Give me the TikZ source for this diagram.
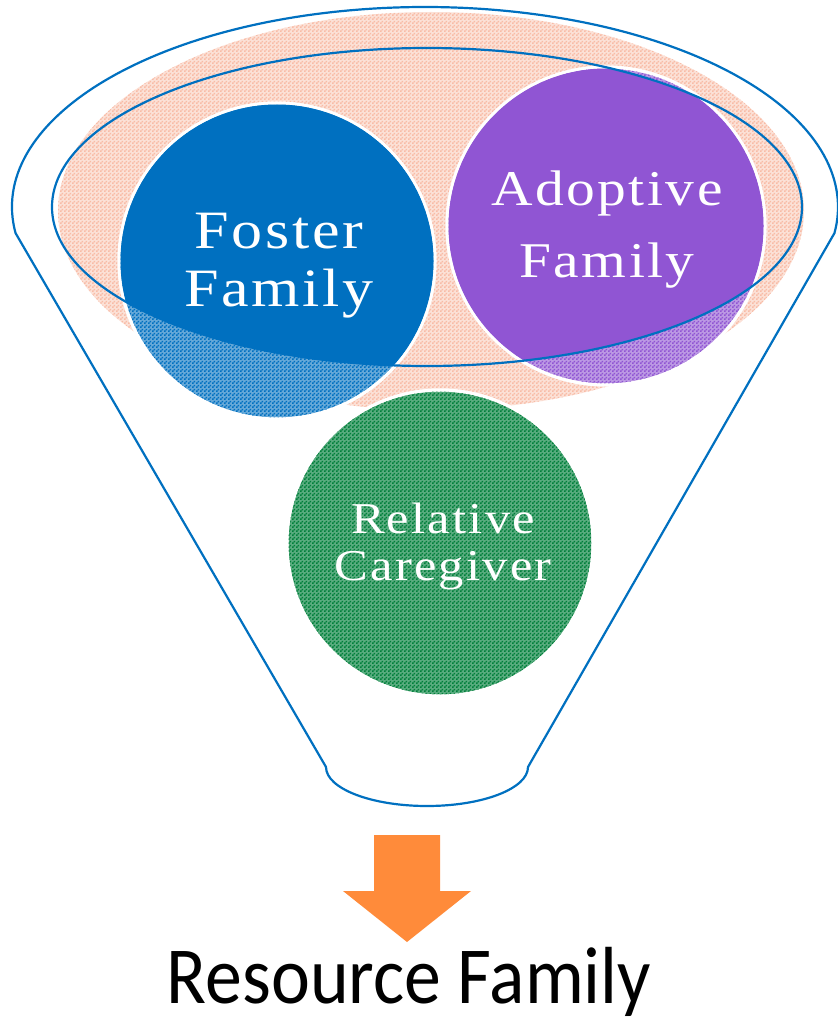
\documentclass[tikz,border=0pt]{standalone}
\usepackage{fontspec}
\usepackage{tikz}
\usetikzlibrary{patterns}
\newfontfamily\circlefont[LetterSpace=5,FakeStretch=1.15]{Liberation Serif}
\newfontfamily\captionfont[FakeStretch=0.91]{Carlito}
\definecolor{funnelblue}{HTML}{0070C0}
\definecolor{fosterblue}{HTML}{0070C0}
\definecolor{adoptpurple}{HTML}{9055D3}
\definecolor{relgreen}{HTML}{007F3A}
\definecolor{pinkcheck}{HTML}{F8BCA6}
\definecolor{arroworange}{HTML}{FF8B3A}
\pgfdeclarepatternformonly{finechecks}{\pgfpointorigin}{\pgfqpoint{4pt}{4pt}}{\pgfqpoint{4pt}{4pt}}{%
  \pgfpathrectangle{\pgfpointorigin}{\pgfqpoint{2pt}{2pt}}%
  \pgfpathrectangle{\pgfqpoint{2pt}{2pt}}{\pgfqpoint{2pt}{2pt}}%
  \pgfusepath{fill}}

\begin{document}
\begin{tikzpicture}[
    x=1pt, y=-1pt,
    outline/.style={draw=funnelblue, line width=2.2pt},
    famdisc/.style={circle, inner sep=0, outer sep=0, draw=white, line width=3pt, pattern=finechecks},
    famtext/.style={text=white, align=center, inner sep=0},
    ]
\useasboundingbox (0,0) rectangle (837,1024);

% glow behind the circles
\fill[pinkcheck!45!white] (431,211) ellipse [x radius=373, y radius=199];
\path[pattern=finechecks, pattern color=pinkcheck] (431,211) ellipse [x radius=373, y radius=199];

% funnel body
\draw[outline] (425,207) ++(172.5:413 and 200)
    arc[start angle=172.5, end angle=367.5, x radius=413, y radius=200]
    -- (528,767)
    arc[start angle=0, end angle=180, x radius=101, y radius=39]
    -- cycle;

\fill[white] (277,261) circle (159.5);
\fill[fosterblue!60!white] (277,261) circle (156.5);
\fill[white] (606,226) circle (160.5);
\fill[adoptpurple!60!white] (606,226) circle (157.5);
\fill[white] (440,543) circle (154.5);
\fill[relgreen!65!white] (440,543) circle (151.5);

\node (foster) [famdisc, minimum size=316, pattern color=fosterblue] at (277,261) {};
\node (adopt)  [famdisc, minimum size=318, pattern color=adoptpurple] at (606,226) {};
\node (relative) [famdisc, minimum size=306, pattern color=relgreen] at (440,543) {};

\begin{scope}
  \clip (427,207) ellipse [x radius=375, y radius=159];
  \fill[fosterblue] (foster.center) circle (156.5);
  \fill[adoptpurple] (adopt.center) circle (157.5);
\end{scope}

\draw[outline] (427,207) ellipse [x radius=375, y radius=159];

\node (fosterlabel) [famtext, font=\circlefont\fontsize{54}{58}\selectfont] at (279,266) {Foster\\Family};
\node (adoptlabel) [famtext, font=\circlefont\fontsize{50}{72}\selectfont] at (607,230) {Adoptive\\Family};
\node (relativelabel) [famtext, font=\circlefont\fontsize{44}{47}\selectfont] at (443,546) {Relative\\Caregiver};

% arrow to the result
\fill[arroworange] (374,835) -- (440,835) -- (440,891) -- (471,891) -- (407,942)
    -- (343,891) -- (374,891) -- cycle;

\node (result) [anchor=base, inner sep=0, font=\captionfont\fontsize{81}{90}\selectfont] at (409,1003) {Resource Family};

\end{tikzpicture}
\end{document}
